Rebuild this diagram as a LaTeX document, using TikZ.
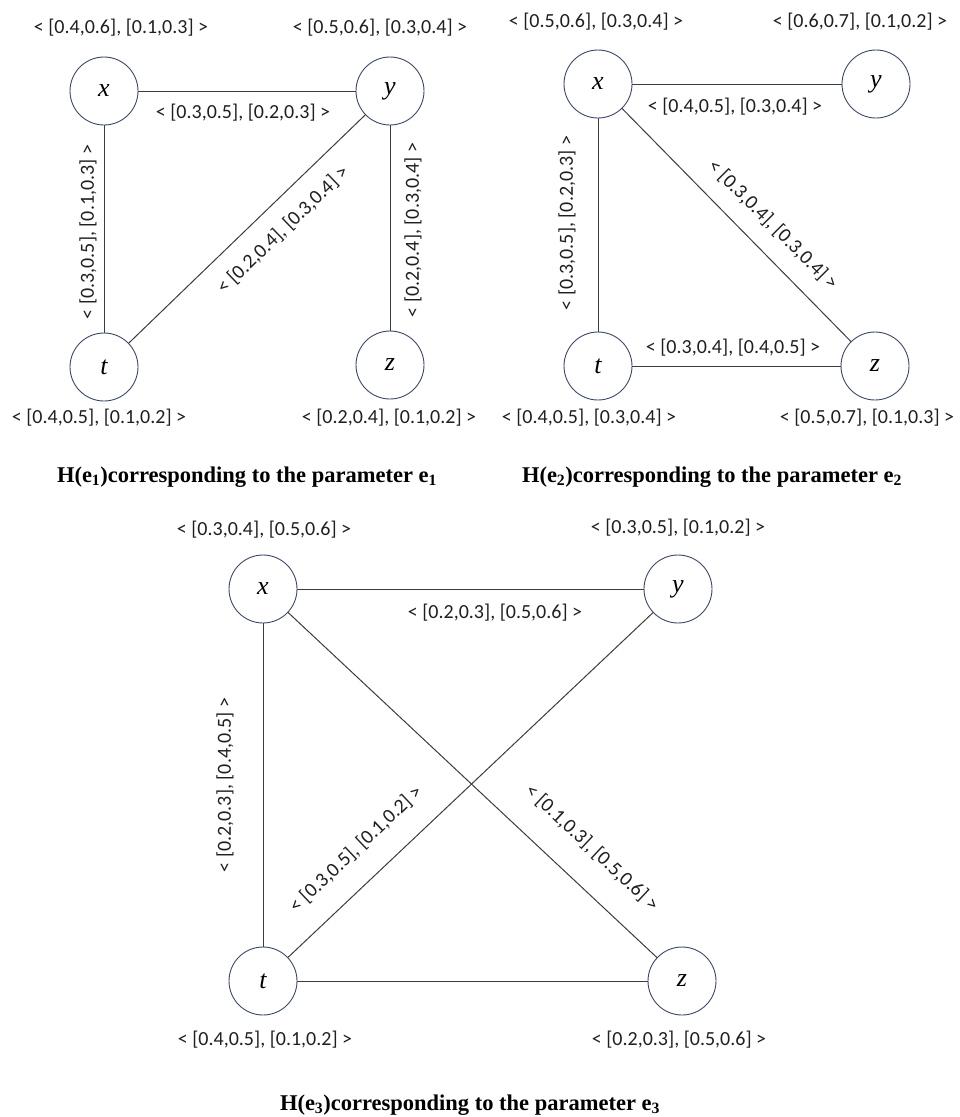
\documentclass[tikz,border=0pt]{standalone}
\usepackage{fontspec}
\setmainfont{Carlito}
\newfontfamily\capfont{Liberation Serif}
\definecolor{nodeblue}{HTML}{3B4868}
\definecolor{edgegray}{HTML}{3C3C3C}
\newcommand{\captionline}[1]{H(e\textsubscript{#1})corresponding to the parameter e\textsubscript{#1}}
\begin{document}
\begin{tikzpicture}[x=1pt,y=-1pt,
  vtx/.style={circle,draw=nodeblue,line width=0.9pt,minimum size=68pt,inner sep=0pt,font=\capfont\itshape\fontsize{26}{30}\selectfont},
  lab/.style={font=\fontsize{20}{24}\selectfont,inner sep=0pt,text=black!88},
  edge/.style={draw=edgegray,line width=1pt},
  captext/.style={font=\capfont\bfseries\fontsize{22.5}{26}\selectfont,inner sep=0pt}]
\useasboundingbox (0,0) rectangle (959,1117);
% ---------- graph 1 ----------
\node[vtx] (x1) at (104,91) {x};
\node[vtx] (y1) at (390,91) {y};
\node[vtx] (t1) at (104,367) {t};
\node[vtx] (z1) at (390,365) {z};
\draw[edge] (x1) -- (y1);
\draw[edge] (x1) -- (t1);
\draw[edge] (y1) -- (z1);
\draw[edge] (y1) -- (t1);
\node[lab] (lx1) at (121,28) {< [0.4,0.6], [0.1,0.3] >};
\node[lab] (ly1) at (380,28) {< [0.5,0.6], [0.3,0.4] >};
\node[lab] (exy1) at (243,113) {< [0.3,0.5], [0.2,0.3] >};
\node[lab,rotate=90] (ext1) at (88,232) {< [0.3,0.5], [0.1,0.3] >};
\node[lab,rotate=90] (eyz1) at (413,230) {< [0.2,0.4], [0.3,0.4] >};
\node[lab,rotate=44] (eyt1) at (283,230) {< [0.2,0.4], [0.3,0.4] >};
\node[lab] (lt1) at (99,418) {< [0.4,0.5], [0.1,0.2] >};
\node[lab] (lz1) at (389,418) {< [0.2,0.4], [0.1,0.2] >};
\node[captext] (c1) at (247,477) {\captionline{1}};
% ---------- graph 2 ----------
\node[vtx] (x2) at (598,84) {x};
\node[vtx] (y2) at (876,84) {y};
\node[vtx] (t2) at (598,366) {t};
\node[vtx] (z2) at (875,366) {z};
\draw[edge] (x2) -- (y2);
\draw[edge] (x2) -- (t2);
\draw[edge] (t2) -- (z2);
\draw[edge] (x2) -- (z2);
\node[lab] (lx2) at (596,22) {< [0.5,0.6], [0.3,0.4] >};
\node[lab] (ly2) at (860,22) {< [0.6,0.7], [0.1,0.2] >};
\node[lab] (exy2) at (735,107) {< [0.4,0.5], [0.3,0.4] >};
\node[lab,rotate=90] (ext2) at (567,223) {< [0.3,0.5], [0.2,0.3] >};
\node[lab,rotate=-45] (exz2) at (773,225) {< [0.3,0.4], [0.3,0.4] >};
\node[lab] (etz2) at (733,348) {< [0.3,0.4], [0.4,0.5] >};
\node[lab] (lt2) at (589,418) {< [0.4,0.5], [0.3,0.4] >};
\node[lab] (lz2) at (867,418) {< [0.5,0.7], [0.1,0.3] >};
\node[captext] (c2) at (712,477) {\captionline{2}};
% ---------- graph 3 ----------
\node[vtx] (x3) at (263,589) {x};
\node[vtx] (y3) at (678,589) {y};
\node[vtx] (t3) at (263,981) {t};
\node[vtx] (z3) at (682,981) {z};
\draw[edge] (x3) -- (y3);
\draw[edge] (x3) -- (t3);
\draw[edge] (t3) -- (z3);
\draw[edge] (x3) -- (z3);
\draw[edge] (t3) -- (y3);
\node[lab] (lx3) at (264,530) {< [0.3,0.4], [0.5,0.6] >};
\node[lab] (ly3) at (678,528) {< [0.3,0.5], [0.1,0.2] >};
\node[lab] (exy3) at (495,613) {< [0.2,0.3], [0.5,0.6] >};
\node[lab,rotate=90] (ext3) at (225,785) {< [0.2,0.3], [0.4,0.5] >};
\node[lab,rotate=43.4] (ety3) at (356,849) {< [0.3,0.5], [0.1,0.2] >};
\node[lab,rotate=-43.1] (exz3) at (592,848) {< [0.1,0.3], [0.5,0.6] >};
\node[lab] (lt3) at (265,1040) {< [0.4,0.5], [0.1,0.2] >};
\node[lab] (lz3) at (679,1040) {< [0.2,0.3], [0.5,0.6] >};
\node[captext] (c3) at (470,1105) {\captionline{3}};
\end{tikzpicture}
\end{document}
